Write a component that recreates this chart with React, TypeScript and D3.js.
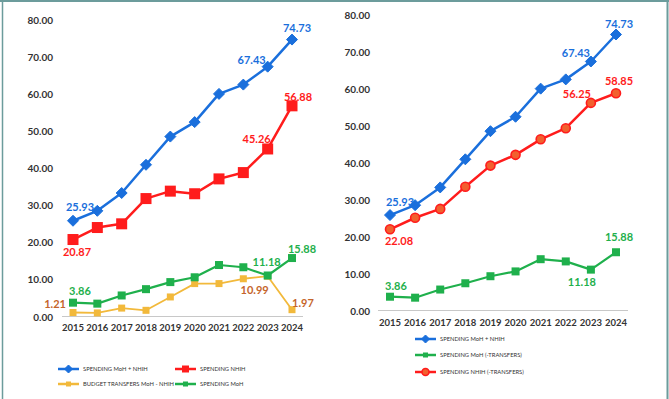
import React from 'react';
import * as d3 from 'd3';

const YEARS = [2015, 2016, 2017, 2018, 2019, 2020, 2021, 2022, 2023, 2024];
const Y_TICKS = [0, 10, 20, 30, 40, 50, 60, 70, 80];

// left chart
const TOTAL_SPENDING = [25.93, 28.6, 33.4, 41.0, 48.6, 52.5, 60.1, 62.6, 67.43, 74.73];
const NHIH_SPENDING = [20.87, 24.1, 25.1, 31.9, 33.9, 33.2, 37.2, 38.9, 45.26, 56.88];
const TRANSFERS = [1.21, 1.1, 2.4, 1.8, 5.4, 9.0, 9.0, 10.3, 10.99, 1.97];
const MOH_SPENDING = [3.86, 3.6, 5.8, 7.5, 9.4, 10.7, 14.0, 13.4, 11.18, 15.88];

// right chart
const MOH_NET = [3.86, 3.6, 5.8, 7.5, 9.4, 10.7, 14.0, 13.4, 11.18, 15.88];
const NHIH_NET = [22.08, 25.2, 27.6, 33.6, 39.3, 42.2, 46.4, 49.4, 56.25, 58.85];

const BLUE = '#1a6fdc';
const RED = '#ff1c1c';
const GREEN = '#1fb04c';
const GOLD = '#f2b93b';
const BROWN = '#c5652b';
const FONT = 'Lato, "Open Sans", sans-serif';

type Marker = 'diamond' | 'square' | 'circle';

function Mark({ x, y, type, size, color }: { x: number; y: number; type: Marker; size: number; color: string }) {
  if (type === 'diamond') {
    const s = size;
    return <path d={`M${x},${y - s}L${x + s},${y}L${x},${y + s}L${x - s},${y}Z`} fill={color} stroke={color} strokeWidth={1} strokeLinejoin="round" />;
  }
  if (type === 'square') {
    return <rect x={x - size / 2} y={y - size / 2} width={size} height={size} fill={color} />;
  }
  return <circle cx={x} cy={y} r={size} fill="#f2602e" stroke={RED} strokeWidth={1.6} />;
}

type Series = { values: number[]; color: string; marker: Marker; size: number; width: number };
type Label = { series: number; index: number; dx: number; dy: number; color: string; anchor?: string };

function Chart({ x0, x1, y0, y80, axisX0, axisX1, tickRight, yearBase, series, labels }: {
  x0: number; x1: number; y0: number; y80: number; axisX0: number; axisX1: number;
  tickRight: number; yearBase: number; series: Series[]; labels: Label[];
}) {
  const x = d3.scalePoint<number>().domain(YEARS).range([x0, x1]);
  const y = d3.scaleLinear().domain([0, 80]).range([y0, y80]);
  const line = d3.line<number>().x((_, i) => x(YEARS[i]) as number).y((d) => y(d));
  return (
    <g>
      {Y_TICKS.map((t) => (
        <text key={t} x={tickRight} y={y(t) + 3.5} textAnchor="end" fontSize={10} fontWeight={700} fill="#333">
          {t.toFixed(2)}
        </text>
      ))}
      <line x1={axisX0} x2={axisX1} y1={y(0) - 0.5} y2={y(0) - 0.5} stroke="#c8c8c8" strokeWidth={1} />
      {YEARS.map((yr) => (
        <text key={yr} x={x(yr)} y={yearBase} textAnchor="middle" fontSize={9.5} fontWeight={700} fill="#333">
          {yr}
        </text>
      ))}
      {series.map((s, si) => (
        <g key={si}>
          <path d={line(s.values) || ''} fill="none" stroke={s.color} strokeWidth={s.width} strokeLinejoin="round" />
          {s.values.map((v, i) => (
            <Mark key={i} x={x(YEARS[i]) as number} y={y(v)} type={s.marker} size={s.size} color={s.color} />
          ))}
        </g>
      ))}
      {labels.map((l, i) => {
        const v = series[l.series].values[l.index];
        return (
          <text key={i} x={(x(YEARS[l.index]) as number) + l.dx} y={y(v) + l.dy} textAnchor={l.anchor || 'middle'}
            fontSize={11} fontWeight={700} fill={l.color}>
            {v.toFixed(2)}
          </text>
        );
      })}
    </g>
  );
}

function LegendItem({ x, y, color, marker, size, text }: { x: number; y: number; color: string; marker: Marker; size: number; text: string }) {
  return (
    <g>
      <line x1={x} x2={x + 21} y1={y} y2={y} stroke={color} strokeWidth={2.5} />
      <Mark x={x + 10.5} y={y} type={marker} size={size} color={color} />
      <text x={x + 25} y={y + 2} fontSize={5.8} fill="#333">{text}</text>
    </g>
  );
}

export default function App() {
  const leftSeries: Series[] = [
    { values: TRANSFERS, color: GOLD, marker: 'square', size: 7, width: 1.8 },
    { values: MOH_SPENDING, color: GREEN, marker: 'square', size: 8, width: 2.2 },
    { values: NHIH_SPENDING, color: RED, marker: 'square', size: 11, width: 2.5 },
    { values: TOTAL_SPENDING, color: BLUE, marker: 'diamond', size: 5.5, width: 2.5 },
  ];
  const leftLabels: Label[] = [
    { series: 3, index: 0, dx: 7, dy: -10, color: BLUE },
    { series: 3, index: 8, dx: -16, dy: -3, color: BLUE },
    { series: 3, index: 9, dx: 5, dy: -8, color: BLUE },
    { series: 2, index: 0, dx: 4, dy: 16, color: RED },
    { series: 2, index: 8, dx: -11, dy: -6, color: RED },
    { series: 2, index: 9, dx: 6, dy: -5, color: RED },
    { series: 1, index: 0, dx: 7, dy: -8, color: GREEN },
    { series: 1, index: 8, dx: -1, dy: -9.5, color: GREEN },
    { series: 1, index: 9, dx: 10, dy: -5, color: GREEN },
    { series: 0, index: 0, dx: -7, dy: -4.5, color: BROWN, anchor: 'end' },
    { series: 0, index: 8, dx: -13, dy: 18, color: BROWN },
    { series: 0, index: 9, dx: 11, dy: -3, color: BROWN },
  ];
  const rightSeries: Series[] = [
    { values: MOH_NET, color: GREEN, marker: 'square', size: 8, width: 2.2 },
    { values: NHIH_NET, color: RED, marker: 'circle', size: 4.5, width: 2.5 },
    { values: TOTAL_SPENDING, color: BLUE, marker: 'diamond', size: 5.5, width: 2.5 },
  ];
  const rightLabels: Label[] = [
    { series: 2, index: 0, dx: 10, dy: -9.5, color: BLUE },
    { series: 2, index: 8, dx: -15, dy: -4.5, color: BLUE },
    { series: 2, index: 9, dx: 3, dy: -6.5, color: BLUE },
    { series: 1, index: 0, dx: 9, dy: 16, color: RED },
    { series: 1, index: 8, dx: -14, dy: -5, color: RED },
    { series: 1, index: 9, dx: 3, dy: -8, color: RED },
    { series: 0, index: 0, dx: 6, dy: -7, color: GREEN },
    { series: 0, index: 8, dx: -9, dy: 16, color: GREEN },
    { series: 0, index: 9, dx: 3, dy: -11, color: GREEN },
  ];
  return (
    <div style={{ position: 'fixed', left: 0, top: 0 }}>
      <svg width={669} height={399} style={{ display: 'block', fontFamily: FONT }}>
        <rect x={0} y={0} width={669} height={399} fill="#fff" />
        <line x1={0} x2={669} y1={1} y2={1} stroke="#6c9c9c" strokeWidth={2} />
        <line x1={2.5} x2={2.5} y1={0} y2={399} stroke="#6c9c9c" strokeWidth={1.5} />
        <line x1={667.5} x2={667.5} y1={0} y2={399} stroke="#6c9c9c" strokeWidth={2} />
        <Chart x0={73} x1={292} y0={317} y80={20} axisX0={62} axisX1={303} tickRight={53} yearBase={331}
          series={leftSeries} labels={leftLabels} />
        <Chart x0={390} x1={616} y0={311} y80={15} axisX0={378} axisX1={628} tickRight={370} yearBase={326}
          series={rightSeries} labels={rightLabels} />
        <LegendItem x={58} y={369} color={BLUE} marker="diamond" size={4} text="SPENDING MoH + NHIH" />
        <LegendItem x={175} y={369} color={RED} marker="square" size={7} text="SPENDING NHIH" />
        <LegendItem x={58} y={384} color={GOLD} marker="square" size={5} text="BUDGET TRANSFERS MoH - NHIH" />
        <LegendItem x={175} y={384} color={GREEN} marker="square" size={5} text="SPENDING MoH" />
        <LegendItem x={415} y={339} color={BLUE} marker="diamond" size={4} text="SPENDING MoH + NHIH" />
        <LegendItem x={415} y={355} color={GREEN} marker="square" size={5} text="SPENDING MoH (-TRANSFERS)" />
        <LegendItem x={415} y={372} color={RED} marker="circle" size={3.5} text="SPENDING NHIH (-TRANSFERS)" />
      </svg>
    </div>
  );
}
